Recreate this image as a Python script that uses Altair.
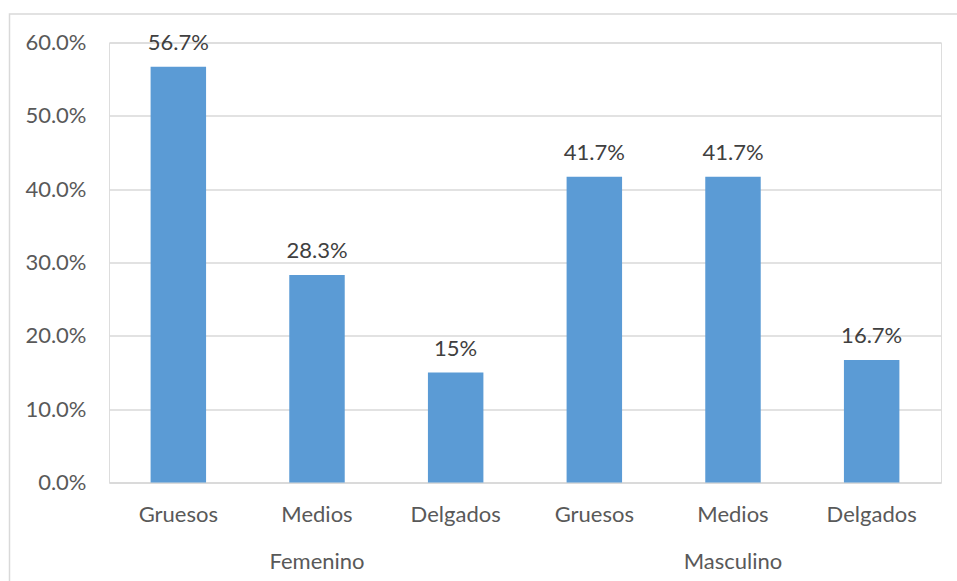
import altair as alt
import pandas as pd

groups = ["Femenino", "Femenino", "Femenino", "Masculino", "Masculino", "Masculino"]
categories = ["Gruesos", "Medios", "Delgados", "Gruesos", "Medios", "Delgados"]
values = [0.567, 0.283, 0.15, 0.417, 0.417, 0.167]
labels = ["56.7%", "28.3%", "15%", "41.7%", "41.7%", "16.7%"]
group_names = ["Femenino", "Masculino"]
group_centers = ["Femenino|Medios", "Masculino|Medios"]

keys = [g + "|" + c for g, c in zip(groups, categories)]
df = pd.DataFrame({"key": keys, "cat": categories, "value": values, "label": labels})
gdf = pd.DataFrame({"key": group_centers, "group": group_names})

FONT = "Lato"
W, H = 832, 440

xscale = alt.Scale(domain=keys, paddingInner=0.6, paddingOuter=0.3)
yscale = alt.Scale(domain=[0, 0.6])

x_enc = alt.X("key:N", scale=xscale, sort=keys, title=None,
              axis=alt.Axis(labelExpr="split(datum.label, '|')[1]", labelAngle=0,
                            ticks=False, tickSize=0, domain=True, domainColor="#d9d9d9",
                            domainWidth=1.5, labelPadding=39, labelBaseline="alphabetic",
                            labelFont=FONT, labelFontSize=22, labelColor="#595959"))
y_enc = alt.Y("value:Q", scale=yscale, title=None,
              axis=alt.Axis(format=".1%", values=[0, 0.1, 0.2, 0.3, 0.4, 0.5, 0.6],
                            ticks=False, domain=False, grid=True, gridColor="#d9d9d9",
                            gridWidth=1.5, labelPadding=23, labelFont=FONT,
                            labelFontSize=22, labelColor="#595959"))

bars = alt.Chart(df).mark_bar(color="#5B9BD5").encode(x=x_enc, y=y_enc)

text = alt.Chart(df).mark_text(font=FONT, fontSize=22, color="#404040",
                               baseline="alphabetic", dy=-17).encode(
    x=alt.X("key:N", scale=xscale, sort=keys),
    y=alt.Y("value:Q", scale=yscale),
    text="label:N")

group_text = alt.Chart(gdf).mark_text(font=FONT, fontSize=22, color="#595959",
                                      baseline="alphabetic").encode(
    x=alt.X("key:N", scale=xscale, sort=keys),
    y=alt.value(H + 86.5),
    text="group:N")

border = alt.Chart(pd.DataFrame({"a": [0]})).mark_rect(
    fill=None, stroke="#d9d9d9", strokeWidth=1.5).encode(
    x=alt.value(-99.5), x2=alt.value(W + 200), y=alt.value(-28.5), y2=alt.value(H + 200))

chart = alt.layer(border, bars, text, group_text).properties(
    width=W, height=H,
    autosize=alt.AutoSizeParams(type="none"),
    padding={"left": 109, "top": 42.5, "right": 16, "bottom": 98.5},
).configure_view(stroke=None).configure(background="white")

chart.save("out.html", embed_options={"renderer": "svg", "actions": False})
